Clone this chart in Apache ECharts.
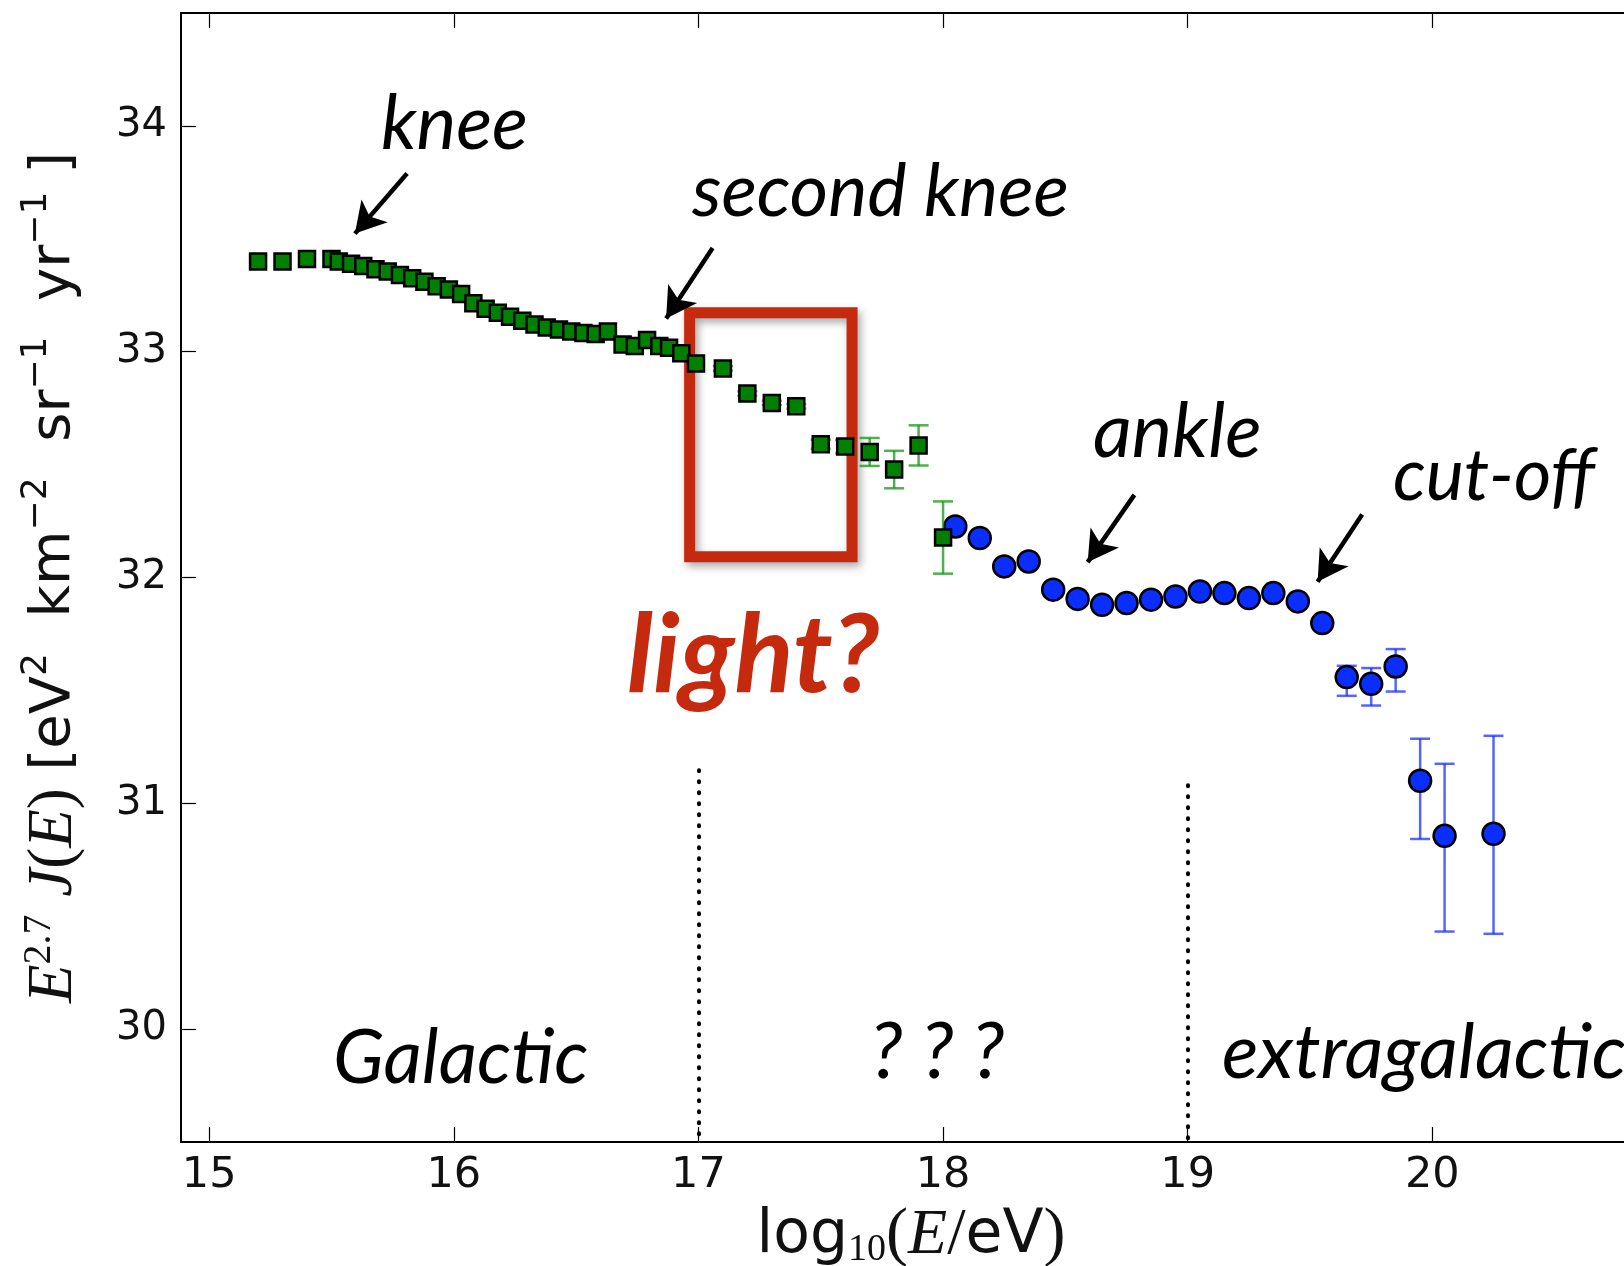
<!DOCTYPE html>
<html>
<head>
<meta charset="utf-8">
<script src="https://cdn.jsdelivr.net/npm/echarts@6/dist/echarts.min.js"></script>
<style>
  html, body { margin: 0; padding: 0; background: #ffffff; }
  #chart { width: 1624px; height: 1266px; }
</style>
</head>
<body>
<div id="chart"></div>
<script>
// Axis ticks
const xTicks = [15, 16, 17, 18, 19, 20];
const yTicks = [30, 31, 32, 33, 34];

// Galactic-range measurements (green squares): log10(E/eV), E^2.7 J(E), symmetric error
const galX = [15.2, 15.3, 15.4, 15.5, 15.53, 15.58, 15.63, 15.68, 15.73, 15.78, 15.83, 15.88,
  15.93, 15.98, 16.03, 16.08, 16.13, 16.18, 16.23, 16.28, 16.33, 16.38, 16.43, 16.48, 16.53,
  16.58, 16.63, 16.69, 16.74, 16.79, 16.84, 16.88, 16.93, 16.99, 17.1, 17.2, 17.3, 17.4,
  17.5, 17.6, 17.7, 17.8, 17.9, 18.0];
const galY = [33.40, 33.40, 33.41, 33.41, 33.40, 33.39, 33.38, 33.365, 33.355, 33.34, 33.325, 33.31,
  33.29, 33.275, 33.255, 33.215, 33.19, 33.172, 33.155, 33.137, 33.12, 33.107, 33.098, 33.09, 33.083,
  33.078, 33.09, 33.032, 33.025, 33.052, 33.025, 33.017, 32.993, 32.948, 32.926, 32.815, 32.773, 32.758,
  32.59, 32.58, 32.556, 32.478, 32.585, 32.177];
const galErr = [0, 0, 0, 0, 0, 0, 0, 0, 0, 0, 0, 0,
  0, 0, 0, 0, 0, 0, 0, 0, 0, 0, 0, 0, 0,
  0, 0, 0, 0, 0, 0, 0, 0, 0, 0.01, 0.01, 0.01, 0.01,
  0.02, 0.03, 0.062, 0.083, 0.089, 0.16];

// Ultra-high-energy measurements (blue circles) with asymmetric errors
const xgalX = [18.05, 18.15, 18.25, 18.35, 18.45, 18.55, 18.65, 18.75, 18.85, 18.95, 19.05,
  19.15, 19.25, 19.35, 19.45, 19.55, 19.65, 19.75, 19.85, 19.95, 20.05, 20.25];
const xgalY = [32.226, 32.175, 32.049, 32.071, 31.946, 31.905, 31.879, 31.887, 31.902, 31.916, 31.938,
  31.931, 31.909, 31.931, 31.894, 31.798, 31.559, 31.529, 31.606, 31.10, 30.856, 30.865];
const xgalErrLow = [0, 0, 0, 0, 0, 0, 0, 0, 0, 0, 0,
  0, 0, 0, 0, 0, 0.083, 0.096, 0.111, 0.258, 0.424, 0.443];
const xgalErrHigh = [0, 0, 0, 0, 0, 0, 0, 0, 0, 0, 0,
  0, 0, 0, 0, 0, 0.05, 0.07, 0.077, 0.186, 0.319, 0.434];

// Feature arrows (tail -> head, in data units)
const arrows = [
  [[15.809, 33.789], [15.596, 33.523]],
  [[17.058, 33.459], [16.868, 33.147]],
  [[18.782, 32.366], [18.591, 32.068]],
  [[19.713, 32.279], [19.531, 31.981]]
];
// Region separators: [x, top of dotted line]
const separators = [[17, 31.146], [19, 31.08]];
// Highlighted band: [xLeft, yTop, xRight, yBottom]
const highlight = [16.964, 33.173, 17.628, 32.092];

const pts = (xs, ys) => xs.map((x, i) => [x, ys[i]]);
const galPts = pts(galX, galY);
const xgalPts = pts(xgalX, xgalY);
const galBars = galX.map((x, i) => [x, galY[i] - galErr[i], galY[i] + galErr[i]]).filter((d, i) => galErr[i] > 0);
const xgalBars = xgalX.map((x, i) => [x, xgalY[i] - xgalErrLow[i], xgalY[i] + xgalErrHigh[i]])
  .filter((d, i) => xgalErrLow[i] + xgalErrHigh[i] > 0);

function errorBars(color) {
  return function (params, api) {
    const x = api.value(0);
    const lo = api.coord([x, api.value(1)]);
    const hi = api.coord([x, api.value(2)]);
    const cap = 10;
    const style = { stroke: color, lineWidth: 2.5 };
    return {
      type: 'group',
      children: [
        { type: 'line', shape: { x1: lo[0], y1: lo[1], x2: hi[0], y2: hi[1] }, style },
        { type: 'line', shape: { x1: lo[0] - cap, y1: lo[1], x2: lo[0] + cap, y2: lo[1] }, style },
        { type: 'line', shape: { x1: hi[0] - cap, y1: hi[1], x2: hi[0] + cap, y2: hi[1] }, style }
      ]
    };
  };
}

const LABEL_FONT = 'Lato, "Open Sans", sans-serif';
const SANS = '"DejaVu Sans", sans-serif';
const SERIF = '"Liberation Serif", "DejaVu Serif", serif';
const RED = '#c62a0e';

function label(text, x, baseline, size, opts) {
  opts = opts || {};
  return {
    type: 'text',
    z: 100,
    style: {
      text: text,
      x: x,
      y: baseline - 0.34 * size,
      fill: opts.fill || '#000',
      fontStyle: 'italic',
      fontWeight: opts.weight || 'normal',
      fontSize: size,
      fontFamily: LABEL_FONT,
      textAlign: 'left',
      verticalAlign: 'middle'
    }
  };
}

const chart = echarts.init(document.getElementById('chart'), null, { renderer: 'canvas' });

const option = {
  animation: false,
  backgroundColor: '#ffffff',
  grid: {
    left: 181, top: 13, width: 1496, height: 1129,
    outerBoundsMode: 'none', containLabel: false,
    show: true, borderColor: '#000', borderWidth: 2, backgroundColor: 'transparent'
  },
  xAxis: [{
    type: 'value', min: 14.885, max: 21, position: 'bottom',
    name: '{s|log}{sub|10}{p|(}{it|E}{p|/}{s|eV}{p|)}',
    nameLocation: 'middle', nameGap: 61,
    nameTextStyle: {
      padding: [0, 36, 0, 0],
      rich: {
        s: { fontFamily: SANS, fontSize: 60, color: '#111', lineHeight: 66 },
        sub: { fontFamily: SERIF, fontSize: 38, color: '#111', verticalAlign: 'bottom', lineHeight: 46 },
        p: { fontFamily: SERIF, fontSize: 66, color: '#111', lineHeight: 66 },
        it: { fontFamily: SERIF, fontStyle: 'italic', fontSize: 64, color: '#111', lineHeight: 66 }
      }
    },
    axisLine: { show: true, onZero: false, lineStyle: { color: '#000', width: 2 } },
    axisTick: { show: true, inside: true, length: 15, customValues: xTicks, lineStyle: { color: '#000', width: 1.2 } },
    axisLabel: { customValues: xTicks, margin: 12, fontFamily: SANS, fontSize: 43, color: '#111' },
    splitLine: { show: false }
  }, {
    type: 'value', min: 14.885, max: 21, position: 'top',
    axisLine: { show: true, onZero: false, lineStyle: { color: '#000', width: 2 } },
    axisTick: { show: true, inside: true, length: 15, customValues: xTicks, lineStyle: { color: '#000', width: 1.2 } },
    axisLabel: { show: false },
    splitLine: { show: false }
  }],
  yAxis: {
    type: 'value', min: 29.5, max: 34.5,
    name: '{mi|E}{ms|2.7}{s| }{mi|J}{mr|(}{mi|E}{mr|)}{s| [eV}{ss|2}{s|  km}{ss|−2}{s|  sr}{ss|−1}{s|  yr}{ss|−1}{s| ]}',
    nameLocation: 'middle', nameRotate: 90, nameGap: 92,
    nameTextStyle: {
      rich: {
        s: { fontFamily: SANS, fontSize: 56, color: '#111', lineHeight: 70 },
        ss: { fontFamily: SANS, fontSize: 36, color: '#111', verticalAlign: 'top', lineHeight: 44 },
        mi: { fontFamily: SERIF, fontStyle: 'italic', fontSize: 63, color: '#111', lineHeight: 70 },
        mr: { fontFamily: SERIF, fontSize: 63, color: '#111', lineHeight: 70 },
        ms: { fontFamily: SERIF, fontSize: 40, color: '#111', verticalAlign: 'top', lineHeight: 44 }
      }
    },
    axisLine: { show: true, onZero: false, lineStyle: { color: '#000', width: 2 } },
    axisTick: { show: true, inside: true, length: 15, customValues: yTicks, lineStyle: { color: '#000', width: 1.2 } },
    axisLabel: { customValues: yTicks, margin: 14, fontFamily: SANS, fontSize: 40, color: '#111' },
    splitLine: { show: false }
  },
  series: [
    {
      name: 'ultra-high-energy errors', type: 'custom', renderItem: errorBars('rgba(20,40,255,0.72)'),
      data: xgalBars, encode: { x: 0, y: [1, 2] }, z: 2, silent: true
    },
    {
      name: 'ultra-high-energy', type: 'scatter', data: xgalPts, z: 3,
      symbol: 'circle', symbolSize: 22,
      itemStyle: { color: '#0a2eff', borderColor: '#000', borderWidth: 2.5, opacity: 1 },
      markLine: {
        silent: true, symbol: ['none', 'none'], label: { show: false },
        lineStyle: { color: '#000', width: 4, type: [1, 10], cap: 'round' },
        data: separators.map(s => [{ coord: [s[0], s[1]] }, { coord: [s[0], 29.5] }])
      }
    },
    {
      name: 'galactic errors', type: 'custom', renderItem: errorBars('rgba(20,150,20,0.75)'),
      data: galBars, encode: { x: 0, y: [1, 2] }, z: 4, silent: true
    },
    {
      name: 'galactic', type: 'scatter', data: galPts, z: 5,
      symbol: 'rect', symbolSize: 16,
      itemStyle: { color: '#008000', borderColor: '#000', borderWidth: 2.5, opacity: 1 },
      markArea: {
        silent: true,
        itemStyle: {
          color: 'rgba(0,0,0,0)', borderColor: RED, borderWidth: 11,
          shadowBlur: 8, shadowColor: 'rgba(0,0,0,0.35)', shadowOffsetX: 3, shadowOffsetY: 4
        },
        label: { show: false },
        data: [[{ coord: [highlight[0], highlight[1]] }, { coord: [highlight[2], highlight[3]] }]]
      },
      markLine: {
        silent: true, label: { show: false },
        symbol: ['none', 'arrow'], symbolSize: [26, 30],
        lineStyle: { color: '#000', width: 4.5, type: 'solid' },
        data: arrows.map(a => [{ coord: a[0] }, { coord: a[1] }])
      }
    }
  ],
  graphic: [
    label('knee', 381, 150, 75),
    label('second knee', 692, 217, 74),
    label('ankle', 1093, 458, 76),
    label('cut-off', 1393, 501, 72),
    label('light?', 627, 694, 109, { fill: RED, weight: 'bold' }),
    label('Galactic', 333, 1084, 75),
    label('? ? ?', 870, 1079, 78),
    label('extragalactic', 1222, 1079, 76)
  ]
};

chart.setOption(option);
</script>
</body>
</html>
